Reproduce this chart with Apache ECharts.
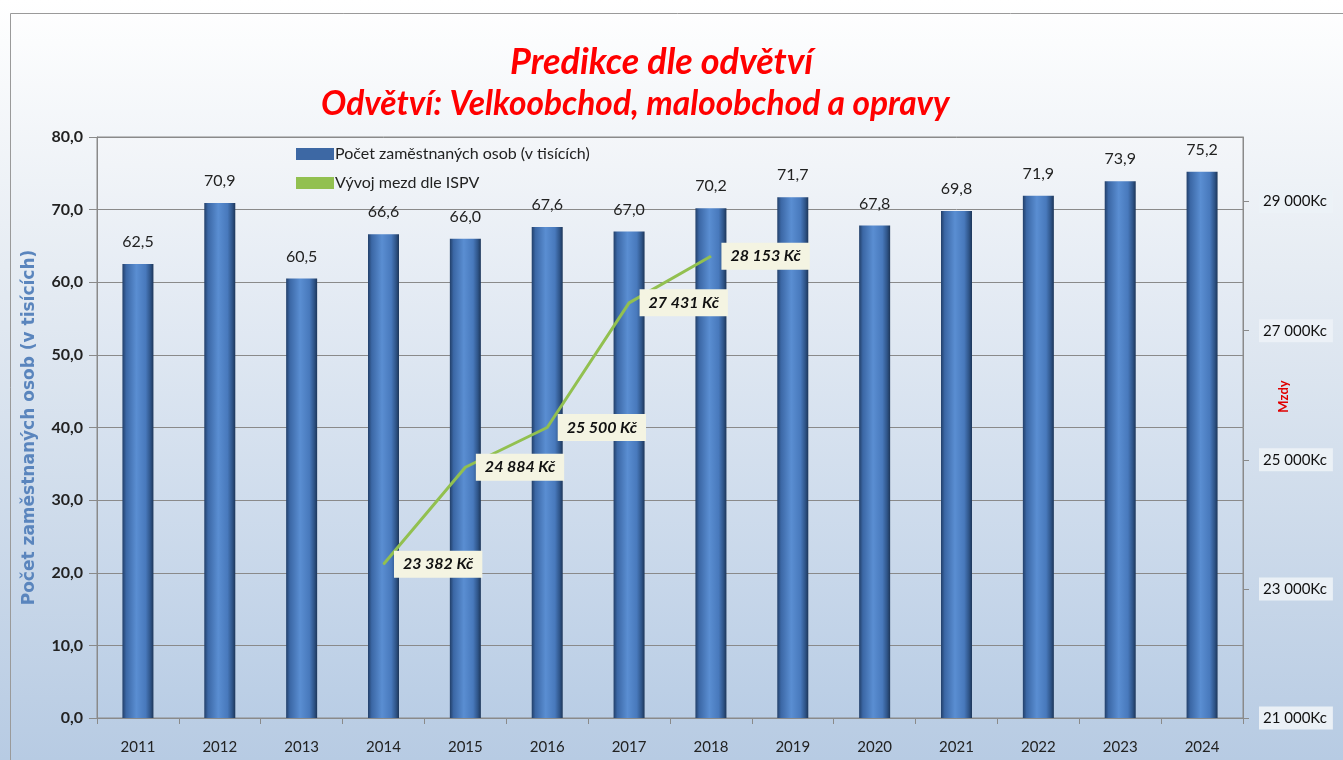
<!DOCTYPE html>
<html><head><meta charset="utf-8">
<script src="https://cdn.jsdelivr.net/npm/echarts@6/dist/echarts.min.js"></script>
<style>html,body{margin:0;padding:0;background:#fff}#c{width:1343px;height:760px}</style>
</head><body><div id="c"></div>
<script>
const categories = ['2011','2012','2013','2014','2015','2016','2017','2018','2019','2020','2021','2022','2023','2024'];
const employees = [62.5, 70.9, 60.5, 66.6, 66.0, 67.6, 67.0, 70.2, 71.7, 67.8, 69.8, 71.9, 73.9, 75.2];
const wages = [null, null, null, 23382, 24884, 25500, 27431, 28153, null, null, null, null, null, null];
const leftTicks = [0, 80, 10];
const rightTicks = [21000, 30000, 2000];

const FONT = 'Lato, "Open Sans", sans-serif';
const fmtThousands = v => String(Math.round(v)).replace(/\B(?=(\d{3})+(?!\d))/g, ' ');

const chart = echarts.init(document.getElementById('c'));
chart.setOption({
  backgroundColor: {type:'linear', x:0, y:0, x2:0, y2:1, colorStops:[{offset:0,color:'#ffffff'},{offset:0.35,color:'#e6ecf3'},{offset:1,color:'#b7cbe3'}]},
  textStyle: {fontFamily: FONT},
  graphic: [
    {type:'rect', left:8, top:11, shape:{width:1340, height:760}, style:{fill:'none', stroke:'#9a9a9a', lineWidth:1}, silent:true}
  ],
  title: [
    {text:'Predikce dle odvětví', left:505, top:39, textStyle:{color:'#ff0000', fontSize:36, fontWeight:'bold', fontStyle:'italic', fontFamily:FONT}},
    {text:'Odvětví: Velkoobchod, maloobchod a opravy', left:316, top:82, textStyle:{color:'#ff0000', fontSize:33.5, fontWeight:'bold', fontStyle:'italic', fontFamily:FONT}}
  ],
  legend: {
    orient:'vertical', left:291, top:141, itemWidth:38, itemHeight:12, itemGap:13,
    textStyle:{fontSize:16, color:'#222', fontFamily:FONT, padding:[0,0,0,-4]},
    data:[
      {name:'Počet zaměstnaných osob (v tisících)', icon:'rect', itemStyle:{color:'#3d68a4'}},
      {name:'Vývoj mezd dle ISPV', icon:'rect'}
    ]
  },
  grid: {left:97, right:100, top:137, bottom:42, show:true, borderColor:'#8a8a8a', borderWidth:1, outerBoundsMode:'none', containLabel:false,
    backgroundColor:{type:'linear', x:0, y:0, x2:0, y2:1, colorStops:[{offset:0,color:'#f4f6f9'},{offset:1,color:'#b9cde5'}]}},
  xAxis: {
    type:'category', data:categories,
    axisLine:{lineStyle:{color:'#8a8a8a'}},
    axisTick:{show:true, length:6, inside:false, lineStyle:{color:'#8a8a8a'}},
    axisLabel:{fontSize:15, color:'#222', margin:22, fontFamily:FONT}
  },
  yAxis: [
    {
      type:'value', min:leftTicks[0], max:leftTicks[1], interval:leftTicks[2],
      name:'Počet zaměstnaných osob (v tisících)', nameLocation:'middle', nameGap:59, nameRotate:90, nameMoveOverlap:false,
      nameTextStyle:{color:'#5a85bd', fontSize:17, fontWeight:'bold', fontFamily:'"DejaVu Sans", sans-serif'},
      axisLine:{show:true, lineStyle:{color:'#8a8a8a'}},
      axisTick:{show:true, length:8, lineStyle:{color:'#8a8a8a'}},
      axisLabel:{fontSize:16, fontWeight:'bold', color:'#222', margin:14, formatter:v=>v.toFixed(1).replace('.',','), fontFamily:FONT},
      splitLine:{show:true, lineStyle:{color:'#8a8a8a', width:1}}
    },
    {
      type:'value', min:rightTicks[0], max:rightTicks[1], interval:rightTicks[2], position:'right',
      name:'Mzdy', nameLocation:'middle', nameGap:34, nameRotate:90, nameMoveOverlap:false,
      nameTextStyle:{color:'#e00000', fontSize:13, fontWeight:'bold', fontFamily:FONT, padding:[0,0,0,62]},
      axisLine:{show:true, lineStyle:{color:'#8a8a8a'}},
      axisTick:{show:true, length:6, lineStyle:{color:'#8a8a8a'}},
      axisLabel:{fontSize:15, color:'#111', margin:16, showMaxLabel:false, fontFamily:FONT,
        backgroundColor:'rgba(236,241,247,0.95)', padding:[4,6,4,4],
        formatter:v=>fmtThousands(v)+'Kc'},
      splitLine:{show:false}
    }
  ],
  series: [
    {
      name:'Počet zaměstnaných osob (v tisících)', type:'bar', data:employees, barWidth:31,
      itemStyle:{color:{type:'linear', x:0, y:0, x2:1, y2:0, colorStops:[
        {offset:0,color:'#223f69'},{offset:0.12,color:'#3b67a5'},{offset:0.45,color:'#5a8ed2'},{offset:0.75,color:'#4879bc'},{offset:0.9,color:'#2f5589'},{offset:1,color:'#1d3659'}]}},
      label:{show:true, position:'top', distance:14, fontSize:16, color:'#222', fontFamily:FONT, formatter:p=>p.value.toFixed(1).replace('.',',')}
    },
    {
      name:'Vývoj mezd dle ISPV', type:'line', yAxisIndex:1, data:wages, showSymbol:true, symbol:'circle', symbolSize:1,
      lineStyle:{color:'#92c050', width:3}, itemStyle:{color:'#92c050'},
      label:{show:true, position:'right', distance:10, fontSize:16, fontWeight:'bold', fontStyle:'italic', color:'#111', fontFamily:FONT,
        backgroundColor:'#f4f4e2', padding:[6,9,5,9], formatter:p=>fmtThousands(p.value)+' Kč'}
    }
  ]
});
</script></body></html>
